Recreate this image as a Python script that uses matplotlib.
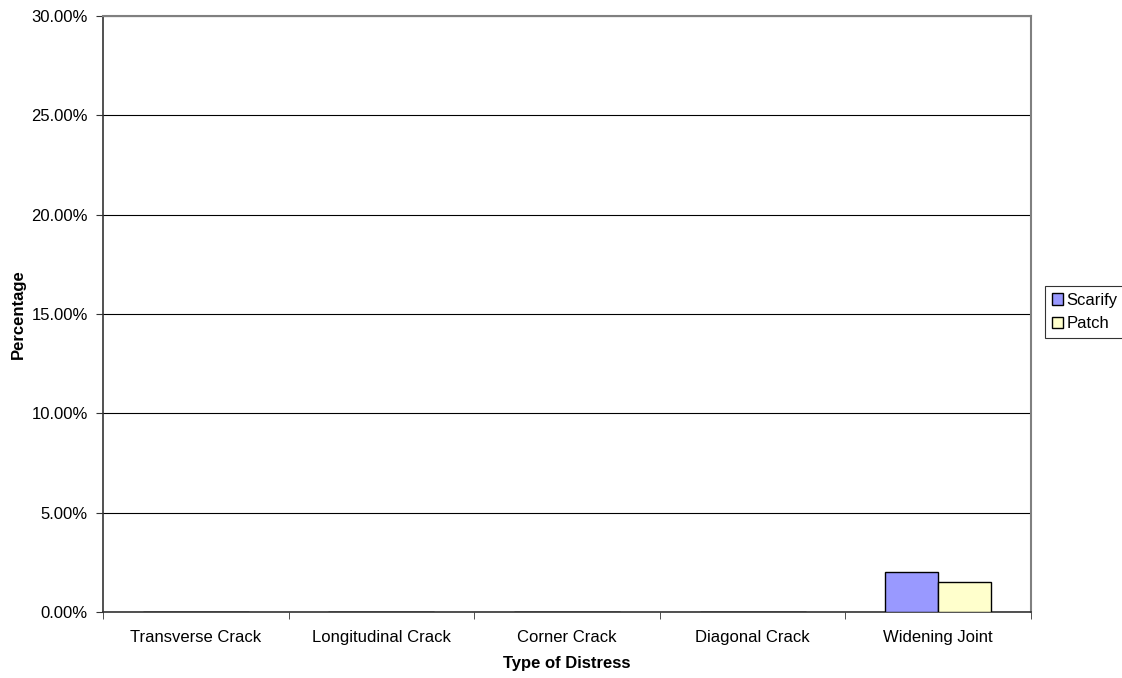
import matplotlib
matplotlib.use("Agg")
import matplotlib.pyplot as plt
import numpy as np
from matplotlib.ticker import PercentFormatter

categories = ["Transverse Crack", "Longitudinal Crack", "Corner Crack",
              "Diagonal Crack", "Widening Joint"]
scarify = [0.0, 0.0, 0.0, 0.0, 2.0]
patch = [0.0, 0.0, 0.0, 0.0, 1.5]

plt.rcParams['font.family'] = ['Liberation Sans', 'DejaVu Sans']
fs = 12

fig = plt.figure(figsize=(11.22, 6.78), dpi=100)
ax = fig.add_axes([0.0918, 0.0973, 0.8271, 0.8791])

x = np.arange(len(categories))
w = 0.286
ax.bar(x - w / 2, scarify, w, color='#9999FF', edgecolor='black', linewidth=1, label='Scarify', zorder=3)
ax.bar(x + w / 2, patch, w, color='#FFFFCC', edgecolor='black', linewidth=1, label='Patch', zorder=3)

ax.set_xlim(-0.5, len(categories) - 0.5)
ax.set_ylim(0, 30)
ax.set_yticks(np.arange(0, 31, 5))
ax.yaxis.set_major_formatter(PercentFormatter(decimals=2))
ax.yaxis.grid(True, color='black', linewidth=0.8, zorder=0)

ax.set_xticks(x)
ax.set_xticklabels(categories)
ax.tick_params(axis='x', length=0, pad=13, labelsize=fs)
ax.set_xticks(np.arange(-0.5, len(categories)), minor=True)
ax.tick_params(axis='x', which='minor', length=5, color='#333333', direction='out')
ax.tick_params(axis='y', length=5, color='#333333', direction='out', labelsize=fs, pad=6)

for s in ['top', 'right']:
    ax.spines[s].set_color('#808080')
    ax.spines[s].set_linewidth(1.5)
for s in ['left', 'bottom']:
    ax.spines[s].set_color('#333333')
    ax.spines[s].set_linewidth(1.2)

ax.set_xlabel("Type of Distress", fontsize=fs, fontweight='bold', labelpad=8)
ax.set_ylabel("Percentage", fontsize=fs, fontweight='bold', labelpad=4)

leg = ax.legend(loc='center left', bbox_to_anchor=(1.015, 0.503), fontsize=fs,
                frameon=True, fancybox=False, edgecolor='black', borderpad=0.4,
                handlelength=0.7, handleheight=0.7, handletextpad=0.2, labelspacing=0.5,
                borderaxespad=0)
leg.get_frame().set_linewidth(0.8)

fig.savefig("out.png", dpi=100)
